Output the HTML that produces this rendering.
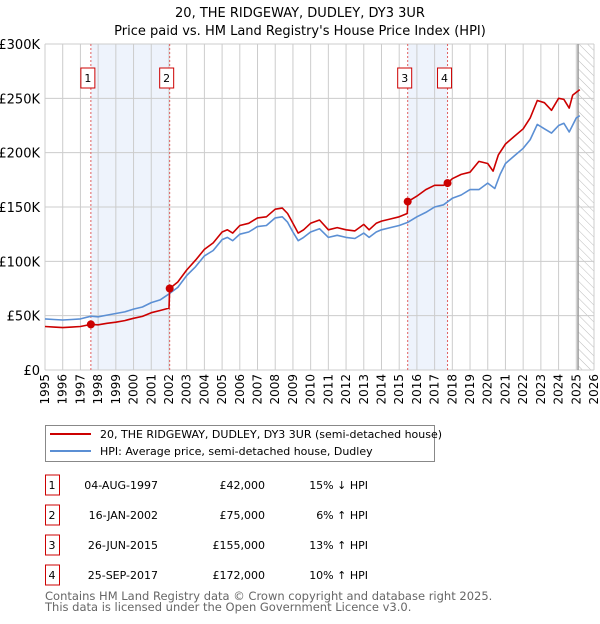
<!DOCTYPE html>
<html><head><meta charset="utf-8"><style>
body{margin:0;background:#fff;font-family:"DejaVu Sans","Liberation Sans",sans-serif;}
svg text{font-family:"DejaVu Sans","Liberation Sans",sans-serif;}
</style></head><body>
<svg id="chart" width="600" height="620" xmlns="http://www.w3.org/2000/svg">
<defs><pattern id="hatch" width="6" height="6" patternUnits="userSpaceOnUse" patternTransform="rotate(-45)"><line x1="0" y1="0" x2="0" y2="6" stroke="#bbb" stroke-width="1"/></pattern></defs>
<text x="300" y="17" font-size="13" text-anchor="middle">20, THE RIDGEWAY, DUDLEY, DY3 3UR</text>
<text x="300" y="35" font-size="13" text-anchor="middle">Price paid vs. HM Land Registry's House Price Index (HPI)</text>
<g id="plot"></g>
<g>
<rect x="45.5" y="425.5" width="389" height="36" fill="#fff" stroke="#888"/>
<line x1="50" y1="434" x2="91" y2="434" stroke="#cc0000" stroke-width="2"/>
<text x="100" y="438" font-size="11">20, THE RIDGEWAY, DUDLEY, DY3 3UR (semi-detached house)</text>
<line x1="50" y1="451" x2="91" y2="451" stroke="#5b8fd4" stroke-width="2"/>
<text x="100" y="455" font-size="11">HPI: Average price, semi-detached house, Dudley</text>
</g>
<g id="table"></g>
<text x="45" y="600" font-size="11.5" fill="#666">Contains HM Land Registry data © Crown copyright and database right 2025.</text>
<text x="45" y="611" font-size="11.5" fill="#666">This data is licensed under the Open Government Licence v3.0.</text>
</svg>
<script>
const hpiYears=[1995,1995.5,1996,1996.5,1997,1997.6,1998,1998.5,1999,1999.5,2000,2000.5,2001,2001.5,2002,2002.5,2003,2003.5,2004,2004.5,2005,2005.3,2005.6,2006,2006.5,2007,2007.5,2008,2008.4,2008.7,2009,2009.3,2009.6,2010,2010.5,2011,2011.5,2012,2012.5,2013,2013.3,2013.7,2014,2014.5,2015,2015.5,2016,2016.5,2017,2017.5,2018,2018.5,2019,2019.5,2020,2020.4,2020.7,2021,2021.5,2022,2022.4,2022.8,2023.2,2023.6,2024,2024.3,2024.6,2025,2025.2];
const hpiValues=[47,46.5,46,46.5,47,49.5,49,50.5,52,53.5,56,58,62,64.5,70,76,87,95,105,110,120,122,119,125,127,132,133,140,141,136,127,119,122,127,130,122,124,122,121,126,122,127,129,131,133,136,141,145,150,152,158,161,166,166,172,167,180,190,197,204,212,226,222,218,225,227,219,232,234];
const redYears=[1995,1995.5,1996,1996.5,1997,1997.6,1998,1998.5,1999,1999.5,2000,2000.5,2001,2001.5,2002,2002.04,2002.5,2003,2003.5,2004,2004.5,2005,2005.3,2005.6,2006,2006.5,2007,2007.5,2008,2008.4,2008.7,2009,2009.3,2009.6,2010,2010.5,2011,2011.5,2012,2012.5,2013,2013.3,2013.7,2014,2014.5,2015,2015.45,2015.5,2016,2016.5,2017,2017.5,2017.73,2018,2018.5,2019,2019.5,2020,2020.3,2020.6,2021,2021.5,2022,2022.4,2022.8,2023.2,2023.6,2024,2024.3,2024.6,2024.8,2025.2];
const redValues=[40,39.5,39,39.5,40,42,41.6,43,44,45.5,47.6,49.3,52.7,54.8,57,75,81,92,101,111,117,127,129,126,133,135,140,141,148,149,144,135,126,129,135,138,129,131,129,128,134,129,135,137,139,141,144,155,160,166,170,170,172,176,180,182,192,190,183,198,208,215,222,232,248,246,239,250,249,241,253,258];
const saleYears=[1997.59,2002.04,2015.48,2017.73];
const saleValues=[42,75,155,172];
const saleLabels=["1","2","3","4"];
const saleDates=["04-AUG-1997","16-JAN-2002","26-JUN-2015","25-SEP-2017"];
const salePrices=["£42,000","£75,000","£155,000","£172,000"];
const saleHpi=["15% ↓ HPI","6% ↑ HPI","13% ↑ HPI","10% ↑ HPI"];
const yTicks=[0,50,100,150,200,250,300];
const yTickLabels=["£0","£50K","£100K","£150K","£200K","£250K","£300K"];
const xTicks=[1995,1996,1997,1998,1999,2000,2001,2002,2003,2004,2005,2006,2007,2008,2009,2010,2011,2012,2013,2014,2015,2016,2017,2018,2019,2020,2021,2022,2023,2024,2025,2026];
const dataEnd=2025.1;

const L=45,R=594,T=44,B=370,NS="http://www.w3.org/2000/svg";
const xs=y=>L+(y-1995)/(2026-1995)*(R-L);
const ys=v=>B-v/300*(B-T);
const plot=document.getElementById('plot');
function mk(tag,attrs,parent){const e=document.createElementNS(NS,tag);for(const k in attrs)e.setAttribute(k,attrs[k]);(parent||plot).appendChild(e);return e;}
for(let i=0;i<4;i+=2){const r=mk('rect',{x:xs(saleYears[i]),y:T,width:xs(saleYears[i+1])-xs(saleYears[i]),height:B-T,fill:'#eef3fc'});

}
const h=mk('rect',{x:xs(dataEnd),y:T,width:R-xs(dataEnd),height:B-T,fill:'url(#hatch)'});


xTicks.forEach(t=>{const g=mk('line',{x1:xs(t),x2:xs(t),y1:T,y2:B,stroke:'#ccc','stroke-width':1});


const tx=mk('text',{x:0,y:0,'font-size':12,'text-anchor':'end',transform:`translate(${xs(t)+4},${B+4}) rotate(-90)`});tx.textContent=t;

});
yTicks.forEach((t,i)=>{const g=mk('line',{x1:L,x2:R,y1:ys(t),y2:ys(t),stroke:'#ccc','stroke-width':1});


const tx=mk('text',{x:40,y:ys(t)+5,'font-size':13,'text-anchor':'end'});tx.textContent=yTickLabels[i];

});
const ed=mk('line',{x1:xs(dataEnd),x2:xs(dataEnd),y1:T,y2:B,stroke:'#999','stroke-width':1.5});


saleYears.forEach((s,i)=>{const l=mk('line',{x1:xs(s),x2:xs(s),y1:T,y2:B,stroke:'#e06060','stroke-width':1,'stroke-dasharray':'2,2'});


const bx=mk('rect',{x:xs(s)-10,y:68,width:14,height:20,fill:'#fff',stroke:'#cc0000'});


const tx=mk('text',{x:xs(s)-3,y:82,'font-size':11,'text-anchor':'middle'});tx.textContent=saleLabels[i];

});
function path(xa,va,col,name){const d=xa.map((y,i)=>(i?'L':'M')+xs(y).toFixed(1)+','+ys(va[i]).toFixed(1)).join('');
const p=mk('path',{d:d,fill:'none',stroke:col,'stroke-width':1.6,'stroke-linejoin':'round'});

}
path(hpiYears,hpiValues,'#5b8fd4','hpi-line');
path(redYears,redValues,'#cc0000','property-price-line');
saleYears.forEach((s,i)=>{const c=mk('circle',{cx:xs(s),cy:ys(saleValues[i]),r:4,fill:'#cc0000'});

});
const tb=document.getElementById('table');
saleLabels.forEach((lb,i)=>{const y=483+i*30;
const bx=mk('rect',{x:45.5,y:y-8,width:14,height:20,fill:'#fff',stroke:'#cc0000'},tb);


const cells=[[52,lb,'middle'],[158,saleDates[i],'end'],[265,salePrices[i],'end'],[368,saleHpi[i],'end']];
cells.forEach(c=>{const t=mk('text',{x:c[0],y:y+6,'font-size':11,'text-anchor':c[2]},tb);t.textContent=c[1];

});});
</script>
</body></html>
